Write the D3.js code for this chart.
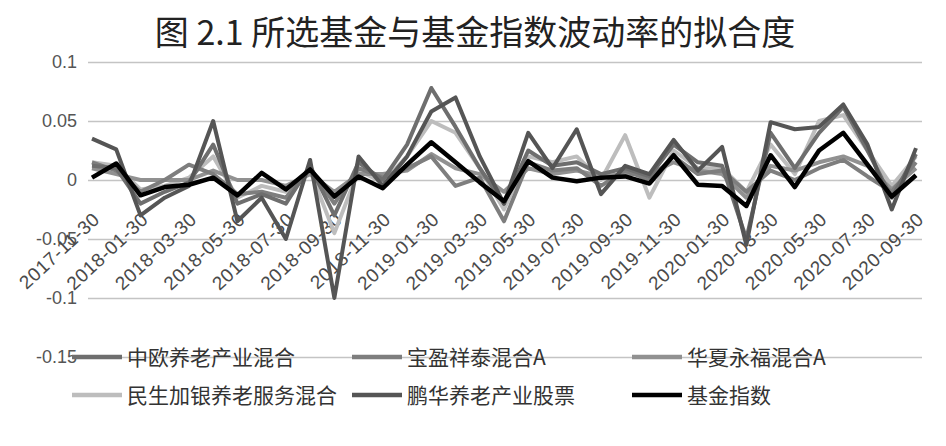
<!DOCTYPE html>
<html><head><meta charset="utf-8">
<script src="https://cdn.jsdelivr.net/npm/d3@7"></script>
<style>body{margin:0;background:#fff}</style>
</head><body>
<svg id="c" width="946" height="446"></svg>
<script>
const months = [
"2017-11-30","2017-12-30","2018-01-30","2018-02-30","2018-03-30","2018-04-30","2018-05-30","2018-06-30","2018-07-30","2018-08-30",
"2018-09-30","2018-10-30","2018-11-30","2018-12-30","2019-01-30","2019-02-30","2019-03-30","2019-04-30","2019-05-30","2019-06-30",
"2019-07-30","2019-08-30","2019-09-30","2019-10-30","2019-11-30","2019-12-30","2020-01-30","2020-02-30","2020-03-30","2020-04-30",
"2020-05-30","2020-06-30","2020-07-30","2020-08-30","2020-09-30"];
const tickLabels = months.filter((d,i)=>i%2===0);
const yTicks = [0.1,0.05,0,-0.05,-0.1,-0.15];
const seriesNames = ["中欧养老产业混合","宝盈祥泰混合A","华夏永福混合A","民生加银养老服务混合","鹏华养老产业股票","基金指数"];
const zhongou = [0.012,0.010,-0.020,-0.010,-0.002,0.030,-0.020,-0.012,-0.020,0.012,-0.030,0.015,0.000,0.030,0.078,0.045,0.010,-0.020,0.025,0.012,0.015,0.005,0.010,0.003,0.030,0.015,0.012,-0.050,0.040,0.010,0.040,0.062,0.025,-0.015,0.022];
const baoying = [0.015,0.008,-0.010,0.000,0.013,0.005,-0.012,-0.010,-0.015,0.010,-0.020,0.010,0.002,0.010,0.020,-0.005,0.002,-0.035,0.015,0.008,0.010,-0.005,0.008,0.000,0.020,0.005,0.008,-0.010,0.008,0.000,0.010,0.017,0.003,-0.010,0.015];
const huaxia = [0.010,0.005,0.000,0.000,0.000,0.008,0.000,0.000,-0.005,0.005,-0.010,0.005,0.005,0.008,0.022,0.010,0.005,-0.010,0.010,0.005,0.008,0.003,0.005,0.005,0.015,0.008,0.005,-0.015,0.012,0.008,0.015,0.020,0.012,-0.008,0.010];
const minsheng = [0.015,0.012,-0.008,-0.005,0.002,0.020,-0.015,-0.005,-0.010,0.008,-0.045,0.008,-0.002,0.020,0.050,0.040,0.010,-0.025,0.020,0.015,0.020,0.000,0.038,-0.015,0.025,0.010,0.010,-0.010,0.030,0.005,0.050,0.055,0.025,-0.005,0.020];
const penghua = [0.035,0.026,-0.030,-0.015,-0.005,0.050,-0.035,-0.015,-0.050,0.017,-0.100,0.020,-0.005,0.020,0.058,0.070,0.020,-0.020,0.040,0.010,0.043,-0.012,0.012,0.005,0.034,0.008,0.028,-0.055,0.049,0.043,0.045,0.064,0.030,-0.025,0.027];
const index = [0.002,0.014,-0.013,-0.006,-0.004,0.002,-0.013,0.006,-0.008,0.009,-0.014,0.003,-0.007,0.013,0.032,0.015,-0.002,-0.018,0.016,0.002,-0.001,0.002,0.003,-0.003,0.021,-0.004,-0.005,-0.022,0.021,-0.006,0.025,0.040,0.013,-0.014,0.004];
const seriesValues = [zhongou,baoying,huaxia,minsheng,penghua,index];
const colors = ["#6e6e6e","#7e7e7e","#919191","#bdbdbd","#555555","#000000"];
const drawOrder = [3,2,1,0,4,5];

const svg = d3.select("#c");
const x = d3.scalePoint().domain(months).range([92,916]);
const y = d3.scaleLinear().domain([-0.15,0.1]).range([357,62]);

svg.append("text").attr("x",475).attr("y",45).attr("text-anchor","middle")
  .attr("font-family","'Noto Sans CJK SC',sans-serif").attr("font-size",34).attr("fill","#222")
  .text("图 2.1 所选基金与基金指数波动率的拟合度");

// gridlines
const yAxis = d3.axisLeft(y).tickValues(yTicks).tickSize(-834).tickFormat(d=>String(+d.toFixed(2)));
const gy = svg.append("g").attr("transform","translate(88,0)").call(yAxis);
gy.select(".domain").remove();
gy.selectAll(".tick line").attr("stroke","#c4c4c4").attr("stroke-width",1.5);
gy.selectAll(".tick text").attr("x",-11).attr("font-family","'Liberation Sans',Arial,sans-serif")
  .attr("font-size",18).attr("fill","#555");

// x labels
const xAxis = d3.axisBottom(x).tickValues(tickLabels).tickSize(0).tickPadding(0);
const gx = svg.append("g").attr("transform",`translate(0,${y(0)+36})`).call(xAxis);
gx.select(".domain").remove();
gx.selectAll(".tick text").attr("y",0).attr("dy","0.35em").attr("text-anchor","end")
  .attr("transform","translate(4,0) rotate(-43)")
  .attr("font-family","'Liberation Sans',Arial,sans-serif").attr("font-size",19).attr("letter-spacing",0.6).attr("fill","#4a4a4a");

// lines
const line = d3.line().x((d,i)=>x(months[i])).y(d=>y(d));
drawOrder.forEach(k=>{
  svg.append("path").datum(seriesValues[k]).attr("fill","none").attr("stroke",colors[k])
    .attr("stroke-width",k===5?4.5:4).attr("stroke-linejoin","round").attr("d",line);
});

// legend
const legPos = [[72,357],[352,357],[632,357],[72,395],[352,395],[632,395]];
seriesNames.forEach((n,k)=>{
  const [lx,ly] = legPos[k];
  svg.append("line").attr("x1",lx).attr("x2",lx+50).attr("y1",ly).attr("y2",ly)
    .attr("stroke",colors[k]).attr("stroke-width",4.5);
  svg.append("text").attr("x",lx+55).attr("y",ly).attr("dy","0.36em")
    .attr("font-family","'Noto Sans CJK SC',sans-serif").attr("font-size",21).attr("fill","#333").text(n);
});
</script>
</body></html>
